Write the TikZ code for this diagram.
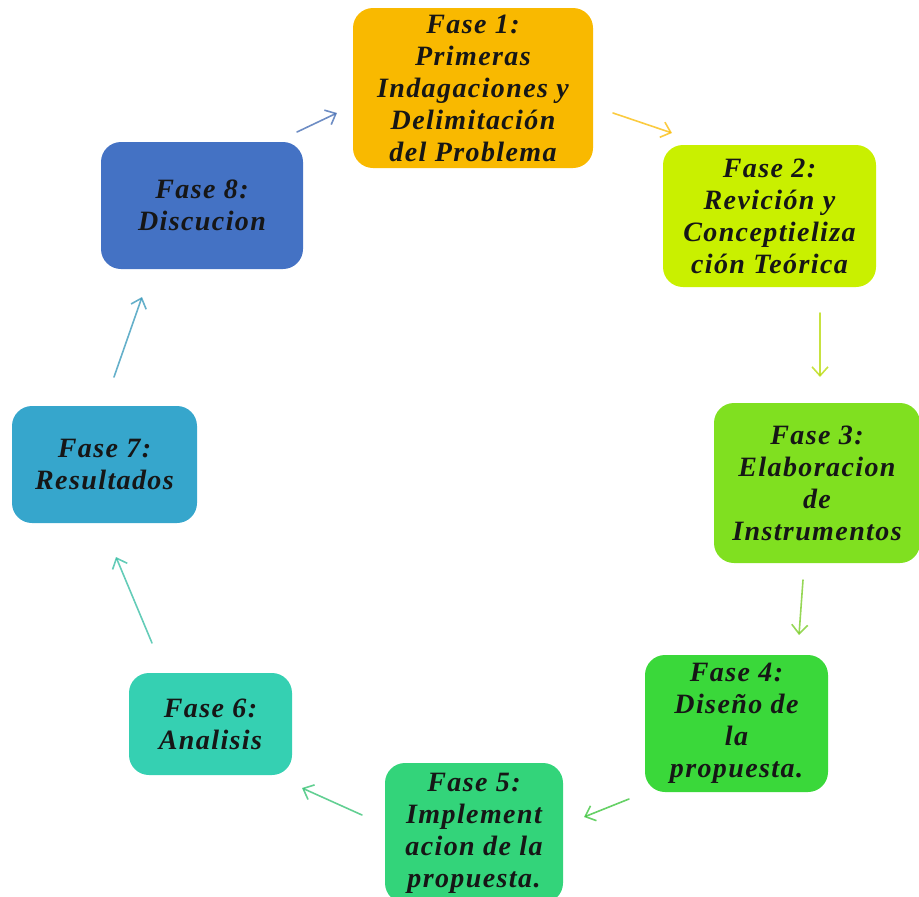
\documentclass[tikz,border=0pt]{standalone}
\usepackage{fontspec}
\setmainfont{Liberation Serif}[LetterSpace=5]
\usetikzlibrary{arrows.meta}
\definecolor{c1}{HTML}{F9B900}
\definecolor{c2}{HTML}{C9F000}
\definecolor{c3}{HTML}{80E020}
\definecolor{c4}{HTML}{3AD83A}
\definecolor{c5}{HTML}{33D47A}
\definecolor{c6}{HTML}{35D0B2}
\definecolor{c7}{HTML}{36A6CC}
\definecolor{c8}{HTML}{4472C4}
\definecolor{txt}{HTML}{161616}
\tikzset{
  phase/.style={rounded corners=20pt, align=center, text=txt,
    font=\bfseries\itshape\fontsize{28}{32}\selectfont, inner sep=0pt},
  flow/.style={line width=1.6pt, line cap=round, opacity=0.75,
    -{Straight Barb[length=9pt,width=16pt,line width=1.6pt]}}
}
\begin{document}
\begin{tikzpicture}[x=1pt,y=-1pt]
\useasboundingbox (0,0) rectangle (919,897);
\clip (0,0) rectangle (919,897);
\node[phase, fill=c1, minimum width=240pt, minimum height=160pt] (f1) at (473,88)
  {Fase 1:\\Primeras\\Indagaciones y\\Delimitación\\del Problema};
\node[phase, fill=c2, minimum width=213pt, minimum height=142pt] (f2) at (769.5,216)
  {Fase 2:\\Revición y\\Conceptieliza\\ción Teórica};
\node[phase, fill=c3, minimum width=206pt, minimum height=160pt] (f3) at (817,483)
  {Fase 3:\\Elaboracion\\de\\Instrumentos};
\node[phase, fill=c4, minimum width=183pt, minimum height=137pt] (f4) at (736.5,723.5)
  {Fase 4:\\Diseño de\\la\\propuesta.};
\node[phase, fill=c5, minimum width=178pt, minimum height=140pt] (f5) at (474,833)
  {Fase 5:\\Implement\\acion de la\\propuesta.};
\node[phase, fill=c6, minimum width=163pt, minimum height=102pt] (f6) at (210.5,724)
  {Fase 6:\\Analisis};
\node[phase, fill=c7, minimum width=185pt, minimum height=117pt] (f7) at (104.5,464.5)
  {Fase 7:\\Resultados};
\node[phase, fill=c8, minimum width=202pt, minimum height=127pt] (f8) at (202,205.5)
  {Fase 8:\\Discucion};
% arrow end points
\coordinate (a81) at (297,132); \coordinate (b81) at (337,113);
\coordinate (a12) at (613,113); \coordinate (b12) at (672,133);
\coordinate (a23) at (820,313); \coordinate (b23) at (820,377);
\coordinate (a34) at (803,580); \coordinate (b34) at (799,635);
\coordinate (a45) at (629,799); \coordinate (b45) at (584,817);
\coordinate (a56) at (362,815); \coordinate (b56) at (302,788);
\coordinate (a67) at (152,643); \coordinate (b67) at (116,557);
\coordinate (a78) at (114,377); \coordinate (b78) at (142,297);
\draw[flow, draw=c8!90!black] (a81) -- (b81);
\draw[flow, draw=c1] (a12) -- (b12);
\draw[flow, draw=c2!90!black] (a23) -- (b23);
\draw[flow, draw=c3!90!black] (a34) -- (b34);
\draw[flow, draw=c4!90!black] (a45) -- (b45);
\draw[flow, draw=c5!90!black] (a56) -- (b56);
\draw[flow, draw=c6!90!black] (a67) -- (b67);
\draw[flow, draw=c7!90!black] (a78) -- (b78);
\end{tikzpicture}
\end{document}
